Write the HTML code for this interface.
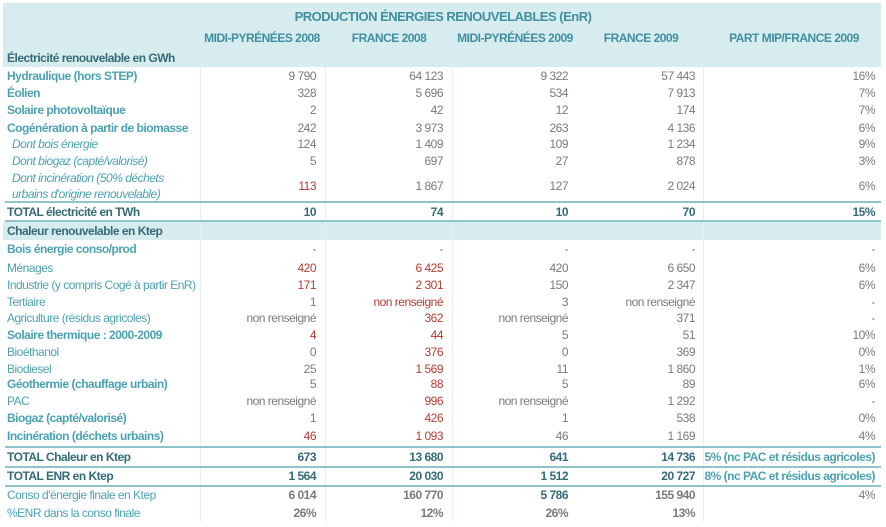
<!DOCTYPE html>
<html><head><meta charset="utf-8"><style>
body{margin:0;width:886px;height:527px;background:#fff;position:relative;overflow:hidden;font-family:"Liberation Sans",sans-serif;font-size:12px;letter-spacing:-0.5px;}
.band{position:absolute;background:#d7ecef;}
.vl{position:absolute;top:67px;width:1px;height:455px;background:#e4f1f3;}
.hl{position:absolute;left:5px;width:876px;height:2px;background:#8fc4cd;}
.r{position:absolute;left:0;width:886px;height:16px;line-height:16px;}
.r span{position:absolute;top:0;white-space:nowrap;}
.c0{left:7px;color:#4aa2b3;}
.c1,.c2,.c3,.c4,.c5{text-align:right;color:#7a7a7a;}
.c1{left:200px;width:116px}.c2{left:325px;width:118px}.c3{left:452px;width:116px}.c4{left:580px;width:115px}.c5{left:703px;width:172px}
.b{font-weight:bold}.i{font-style:italic}
.red{color:#b83a30!important}
.dk{color:#356b77!important;font-weight:bold}
.h{position:absolute;font-weight:bold;color:#3f8fa0;text-align:center;white-space:nowrap;}
</style></head><body>
<div class="band" style="left:3px;top:3px;width:878px;height:64px"></div>
<div class="band" style="left:3px;top:222px;width:878px;height:18px"></div>
<div class="vl" style="left:200px"></div><div class="vl" style="left:325px"></div><div class="vl" style="left:452px"></div><div class="vl" style="left:703px"></div>
<div class="h" style="left:0;width:886px;top:9px;font-size:13px">PRODUCTION ÉNERGIES RENOUVELABLES (EnR)</div>
<div class="h" style="left:202px;width:120px;top:31px">MIDI-PYRÉNÉES 2008</div>
<div class="h" style="left:330px;width:118px;top:31px">FRANCE 2008</div>
<div class="h" style="left:455px;width:120px;top:31px">MIDI-PYRÉNÉES 2009</div>
<div class="h" style="left:582px;width:118px;top:31px">FRANCE 2009</div>
<div class="h" style="left:710px;width:168px;top:31px">PART MIP/FRANCE 2009</div>
<div class="r" style="top:50px"><span class="c0 dk">Électricité renouvelable en GWh</span></div>

<div class="r" style="top:68px"><span class="c0 b">Hydraulique (hors STEP)</span><span class="c1">9 790</span><span class="c2">64 123</span><span class="c3">9 322</span><span class="c4">57 443</span><span class="c5">16%</span></div>
<div class="r" style="top:85px"><span class="c0 b">Éolien</span><span class="c1">328</span><span class="c2">5 696</span><span class="c3">534</span><span class="c4">7 913</span><span class="c5">7%</span></div>
<div class="r" style="top:102px"><span class="c0 b">Solaire photovoltaïque</span><span class="c1">2</span><span class="c2">42</span><span class="c3">12</span><span class="c4">174</span><span class="c5">7%</span></div>
<div class="r" style="top:120px"><span class="c0 b">Cogénération à partir de biomasse</span><span class="c1">242</span><span class="c2">3 973</span><span class="c3">263</span><span class="c4">4 136</span><span class="c5">6%</span></div>
<div class="r" style="top:136px"><span class="c0 i" style="left:12px">Dont bois énergie</span><span class="c1">124</span><span class="c2">1 409</span><span class="c3">109</span><span class="c4">1 234</span><span class="c5">9%</span></div>
<div class="r" style="top:153px"><span class="c0 i" style="left:12px">Dont biogaz (capté/valorisé)</span><span class="c1">5</span><span class="c2">697</span><span class="c3">27</span><span class="c4">878</span><span class="c5">3%</span></div>
<div class="r" style="top:170px"><span class="c0 i" style="left:12px">Dont incinération (50% déchets</span></div>
<div class="r" style="top:186px"><span class="c0 i" style="left:12px">urbains d'origine renouvelable)</span></div>
<div class="r" style="top:178px"><span class="c1 red">113</span><span class="c2">1 867</span><span class="c3">127</span><span class="c4">2 024</span><span class="c5">6%</span></div>
<div class="hl" style="top:201px"></div>
<div class="r" style="top:204px"><span class="c0 dk">TOTAL électricité en TWh</span><span class="c1 dk">10</span><span class="c2 dk">74</span><span class="c3 dk">10</span><span class="c4 dk">70</span><span class="c5 dk">15%</span></div>
<div class="hl" style="top:220px"></div>
<div class="r" style="top:223px"><span class="c0 dk">Chaleur renouvelable en Ktep</span></div>
<div class="r" style="top:241px"><span class="c0 b">Bois énergie conso/prod</span><span class="c1">-</span><span class="c2">-</span><span class="c3">-</span><span class="c4">-</span><span class="c5">-</span></div>
<div class="r" style="top:260px"><span class="c0">Ménages</span><span class="c1 red">420</span><span class="c2 red">6 425</span><span class="c3">420</span><span class="c4">6 650</span><span class="c5">6%</span></div>
<div class="r" style="top:277px"><span class="c0">Industrie (y compris Cogé à partir EnR)</span><span class="c1 red">171</span><span class="c2 red">2 301</span><span class="c3">150</span><span class="c4">2 347</span><span class="c5">6%</span></div>
<div class="r" style="top:294px"><span class="c0">Tertiaire</span><span class="c1">1</span><span class="c2 red">non renseigné</span><span class="c3">3</span><span class="c4">non renseigné</span><span class="c5">-</span></div>
<div class="r" style="top:310px"><span class="c0">Agriculture (résidus agricoles)</span><span class="c1">non renseigné</span><span class="c2 red">362</span><span class="c3">non renseigné</span><span class="c4">371</span><span class="c5">-</span></div>
<div class="r" style="top:327px"><span class="c0 b">Solaire thermique : 2000-2009</span><span class="c1 red">4</span><span class="c2 red">44</span><span class="c3">5</span><span class="c4">51</span><span class="c5">10%</span></div>
<div class="r" style="top:344px"><span class="c0">Bioéthanol</span><span class="c1">0</span><span class="c2 red">376</span><span class="c3">0</span><span class="c4">369</span><span class="c5">0%</span></div>
<div class="r" style="top:361px"><span class="c0">Biodiesel</span><span class="c1">25</span><span class="c2 red">1 569</span><span class="c3">11</span><span class="c4">1 860</span><span class="c5">1%</span></div>
<div class="r" style="top:376px"><span class="c0 b">Géothermie (chauffage urbain)</span><span class="c1">5</span><span class="c2 red">88</span><span class="c3">5</span><span class="c4">89</span><span class="c5">6%</span></div>
<div class="r" style="top:393px"><span class="c0">PAC</span><span class="c1">non renseigné</span><span class="c2 red">996</span><span class="c3">non renseigné</span><span class="c4">1 292</span><span class="c5">-</span></div>
<div class="r" style="top:410px"><span class="c0 b">Biogaz (capté/valorisé)</span><span class="c1">1</span><span class="c2 red">426</span><span class="c3">1</span><span class="c4">538</span><span class="c5">0%</span></div>
<div class="r" style="top:428px"><span class="c0 b">Incinération (déchets urbains)</span><span class="c1 red">46</span><span class="c2 red">1 093</span><span class="c3">46</span><span class="c4">1 169</span><span class="c5">4%</span></div>
<div class="hl" style="top:446px"></div>
<div class="r" style="top:449px"><span class="c0 dk">TOTAL Chaleur en Ktep</span><span class="c1 dk">673</span><span class="c2 dk">13 680</span><span class="c3 dk">641</span><span class="c4 dk">14 736</span><span class="c5 b" style="color:#4aa2b3">5% (nc PAC et résidus agricoles)</span></div>
<div class="hl" style="top:466px"></div>
<div class="r" style="top:468px"><span class="c0 dk">TOTAL ENR en Ktep</span><span class="c1 dk">1 564</span><span class="c2 dk">20 030</span><span class="c3 dk">1 512</span><span class="c4 dk">20 727</span><span class="c5 b" style="color:#4aa2b3">8% (nc PAC et résidus agricoles)</span></div>
<div class="hl" style="top:485px"></div>
<div class="r" style="top:487px"><span class="c0">Conso d'énergie finale en Ktep</span><span class="c1 b">6 014</span><span class="c2 b">160 770</span><span class="c3 dk">5 786</span><span class="c4 b">155 940</span><span class="c5">4%</span></div>
<div class="r" style="top:505px"><span class="c0">%ENR dans la conso finale</span><span class="c1 b">26%</span><span class="c2 b">12%</span><span class="c3 b">26%</span><span class="c4 b">13%</span></div>
</body></html>
